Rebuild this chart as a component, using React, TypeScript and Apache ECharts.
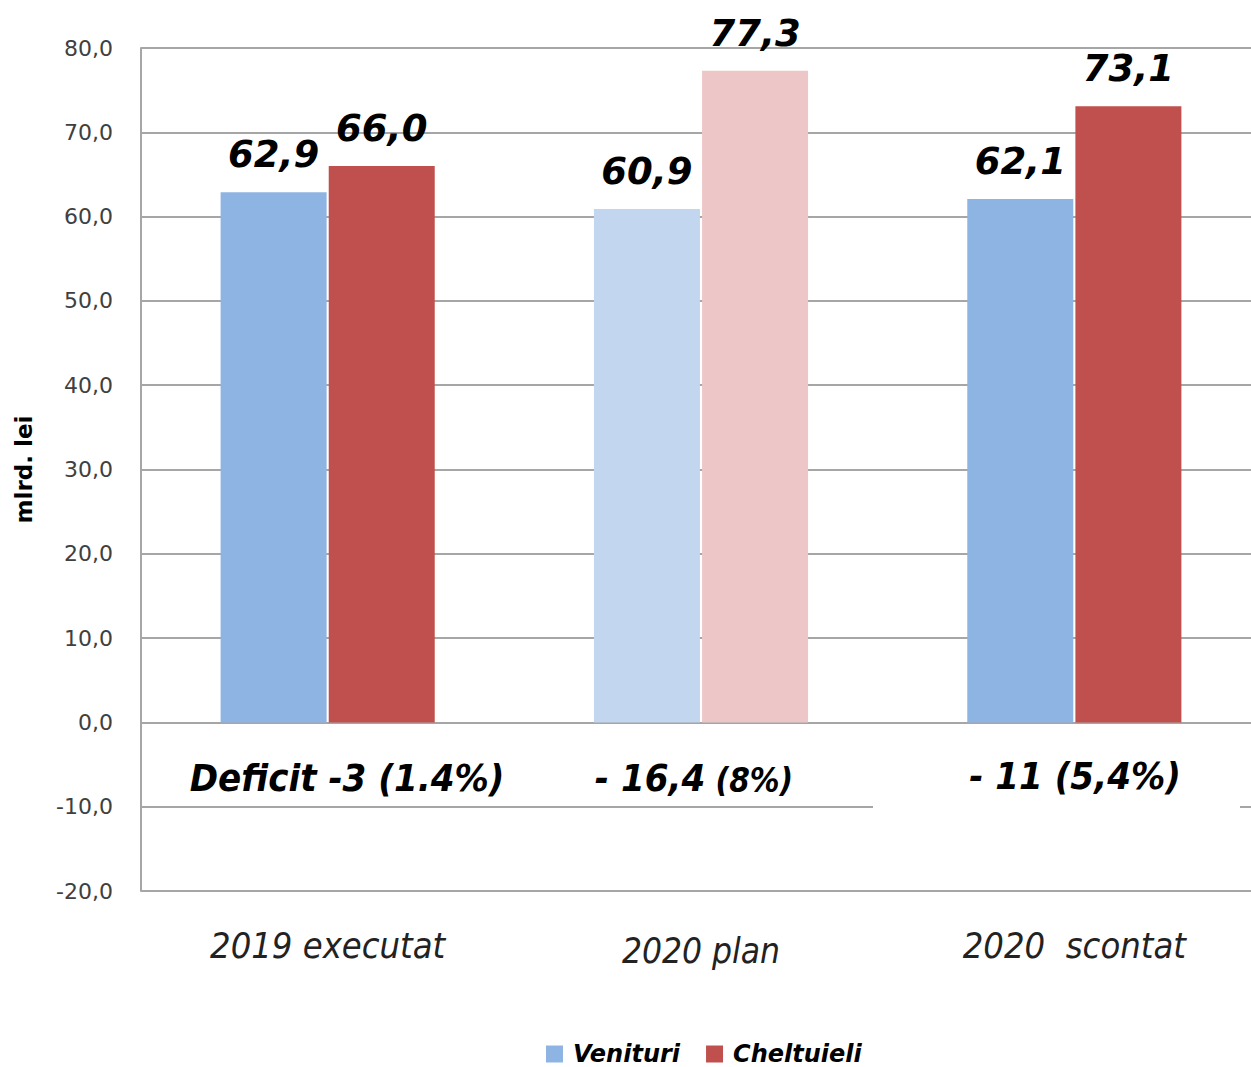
import React, { useEffect, useRef } from "react";
import * as echarts from "echarts";

const categories = ["2019 executat", "2020 plan", "2020  scontat"];
const venituri = [62.9, 60.9, 62.1];
const cheltuieli = [66.0, 77.3, 73.1];
const highlightIndex = 1;
const deficitMain = ["Deficit -3 (1.4%)", "- 16,4", "- 11 (5,4%)"];
const deficitSub = ["", " (8%)", ""];
const yTicks = { min: -20, max: 80, interval: 10 };

const colV = "#8EB4E3";
const colC = "#C0504D";
const colVLight = "#C2D6F0";
const colCLight = "#EDC7C7";

const fmt = (v: number) => v.toFixed(1).replace(".", ",");

export default function App() {
  const ref = useRef<HTMLDivElement>(null);
  useEffect(() => {
    if (!ref.current) return;
    const chart = echarts.init(ref.current, null, { renderer: "svg" });
    const labelStyle = {
      show: true,
      position: "top",
      distance: 19,
      formatter: (p: any) => fmt(p.value),
      fontFamily: "DejaVu Sans",
      fontWeight: "bold",
      fontStyle: "italic",
      fontSize: 37,
      color: "#000",
    };
    const catLabelFont = "'Liberation Sans Narrow', 'DejaVu Sans Condensed', sans-serif";
    chart.setOption({
      animation: false,
      backgroundColor: "#fff",
      grid: { left: 141, top: 48, width: 1120, height: 843, containLabel: false },
      legend: {
        top: 1041,
        left: 546,
        padding: 0,
        itemWidth: 17,
        itemHeight: 17,
        itemGap: 26,
        icon: "rect",
        textStyle: {
          fontFamily: "DejaVu Sans",
          fontWeight: "bold",
          fontStyle: "italic",
          fontSize: 24,
          lineHeight: 26,
          color: "#000",
          padding: [0, 0, 0, 5],
        },
        data: ["Venituri", "Cheltuieli"],
      },
      xAxis: {
        type: "category",
        data: categories,
        position: "bottom",
        axisLine: { show: false, onZero: false },
        axisTick: { show: false },
        axisLabel: {
          margin: 36,
          formatter: (v: string) => (v === categories[highlightIndex] ? `{p|${v}}` : `{n|${v}}`),
          rich: {
            n: { fontFamily: catLabelFont, fontStyle: "italic", fontSize: 36, color: "#222" },
            p: { fontFamily: catLabelFont, fontStyle: "italic", fontSize: 35, color: "#222", padding: [6, 0, 0, 0] },
          },
        },
      },
      yAxis: {
        type: "value",
        min: yTicks.min,
        max: yTicks.max,
        interval: yTicks.interval,
        name: "mlrd. lei",
        nameLocation: "middle",
        nameGap: 106,
        nameTextStyle: { fontFamily: "DejaVu Sans", fontWeight: "bold", fontSize: 23, color: "#000" },
        axisLine: { show: true, lineStyle: { color: "#A6A6A6", width: 2 } },
        axisTick: { show: false },
        axisLabel: {
          margin: 28,
          formatter: (v: number) => fmt(v),
          fontFamily: "DejaVu Sans",
          fontSize: 22,
          color: "#404040",
        },
        splitLine: { show: true, lineStyle: { color: "#A6A6A6", width: 2 } },
      },
      series: [
        {
          name: "Venituri",
          type: "bar",
          barWidth: 106,
          barGap: "2%",
          itemStyle: { color: colV },
          label: labelStyle,
          data: venituri.map((v, i) => ({ value: v, itemStyle: { color: i === highlightIndex ? colVLight : colV } })),
        },
        {
          name: "Cheltuieli",
          type: "bar",
          barWidth: 106,
          itemStyle: { color: colC },
          label: labelStyle,
          data: cheltuieli.map((v, i) => ({ value: v, itemStyle: { color: i === highlightIndex ? colCLight : colC } })),
        },
      ],
      graphic: [
        { type: "rect", shape: { x: 873, y: 745, width: 367, height: 68 }, style: { fill: "#fff" }, z: 10 },
        {
          type: "text", x: 347, y: 778, z: 11,
          style: { text: deficitMain[0], align: "center", verticalAlign: "middle", font: `italic bold 38px ${catLabelFont}`, fill: "#000" },
        },
        {
          type: "text", x: 694, y: 778, z: 11,
          style: {
            text: `{a|${deficitMain[1]}}{b|${deficitSub[1]}}`,
            align: "center",
            verticalAlign: "middle",
            fill: "#000",
            rich: {
              a: { font: `italic bold 38px ${catLabelFont}`, fill: "#000", verticalAlign: "bottom" },
              b: { font: `italic bold 33px ${catLabelFont}`, fill: "#000", verticalAlign: "bottom" },
            },
          },
        },
        {
          type: "text", x: 1075, y: 776, z: 11,
          style: { text: deficitMain[2], align: "center", verticalAlign: "middle", font: `italic bold 38px ${catLabelFont}`, fill: "#000" },
        },
      ],
    });
    return () => chart.dispose();
  }, []);
  return (
    <div style={{ position: "absolute", left: 0, top: 0, width: 1251, height: 1067, overflow: "hidden" }}>
      <div ref={ref} style={{ width: 1270, height: 1067 }} />
    </div>
  );
}
